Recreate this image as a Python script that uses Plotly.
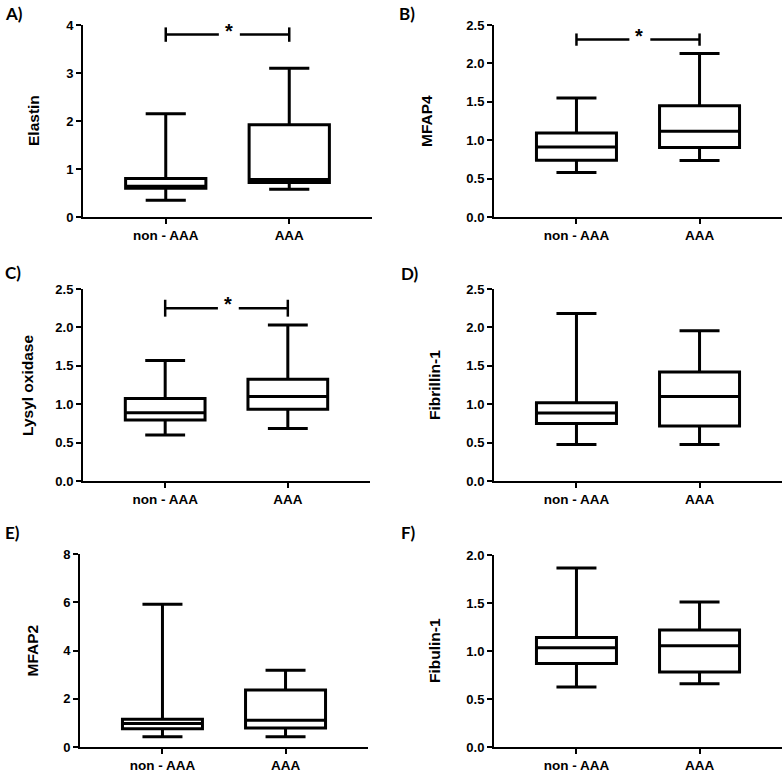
import plotly.graph_objects as go

categories = ["non - AAA", "AAA"]

panel_letters = ["A)", "B)", "C)", "D)", "E)", "F)"]
titles = ["Elastin", "MFAP4", "Lysyl oxidase", "Fibrillin-1", "MFAP2", "Fibulin-1"]

# per panel: [non-AAA, AAA]
lower = [[0.35, 0.58], [0.58, 0.735], [0.60, 0.685], [0.475, 0.475], [0.42, 0.43], [0.625, 0.66]]
q1 = [[0.60, 0.72], [0.74, 0.905], [0.795, 0.935], [0.75, 0.715], [0.76, 0.79], [0.87, 0.78]]
median = [[0.64, 0.78], [0.91, 1.115], [0.89, 1.10], [0.885, 1.10], [0.97, 1.11], [1.035, 1.055]]
q3 = [[0.80, 1.92], [1.095, 1.45], [1.075, 1.325], [1.02, 1.42], [1.15, 2.36], [1.14, 1.22]]
upper = [[2.15, 3.10], [1.55, 2.13], [1.57, 2.03], [2.18, 1.955], [5.92, 3.18], [1.865, 1.51]]

y_max = [4, 2.5, 2.5, 2.5, 8, 2.0]
y_dtick = [1, 0.5, 0.5, 0.5, 2, 0.5]
y_fmt = ["d", ".1f", ".1f", ".1f", "d", ".1f"]

# significance brackets (panel index, bracket height, tick half-height, label)
sig_panels = [0, 1, 2]
sig_height = [3.80, 2.31, 2.25]
sig_tick = [0.15, 0.08, 0.11]
sig_label = ["*", "*", "*"]

W, H = 784, 773


def px_x(v):
    return v / W


def px_y(v):
    return 1 - v / H


# pixel geometry of each plot area: (x0, x1, ytop, ybottom)
geom = [
    (83, 372, 25, 217),
    (494, 782, 25, 217),
    (83, 370, 289, 481),
    (494, 782, 289, 481),
    (80, 368, 554, 747),
    (494, 782, 555, 747),
]
letter_pos = [(3, 13), (397, 13), (3, 272), (399, 273), (3, 532), (399, 532)]
title_x = [34, 427, 27, 434, 32, 434]

fig = go.Figure()
font_main = "Liberation Sans, Arial, sans-serif"

for i in range(6):
    n = i + 1
    xa = "x" if n == 1 else f"x{n}"
    ya = "y" if n == 1 else f"y{n}"
    fig.add_trace(go.Box(
        x=categories,
        q1=q1[i], median=median[i], q3=q3[i],
        lowerfence=lower[i], upperfence=upper[i],
        xaxis=xa, yaxis=ya,
        width=0.65, whiskerwidth=0.5,
        line=dict(color="black", width=3),
        fillcolor="white",
        boxpoints=False, showlegend=False, hoverinfo="skip",
    ))
    x0, x1, yt, yb = geom[i]
    xkey = "xaxis" if n == 1 else f"xaxis{n}"
    ykey = "yaxis" if n == 1 else f"yaxis{n}"
    fig.layout[xkey] = dict(
        domain=[px_x(x0), px_x(x1)], anchor=ya, type="category", automargin=False,
        range=[-0.67, 1.67], showline=True, linecolor="black", linewidth=2,
        ticks="outside", ticklen=5, tickwidth=2, tickcolor="black",
        showgrid=False, zeroline=False, fixedrange=True,
        tickfont=dict(family=font_main, size=13.5, color="black", weight="bold"),
    )
    fig.layout[ykey] = dict(
        domain=[px_y(yb), px_y(yt)], anchor=xa, automargin=False,
        range=[0, y_max[i]], dtick=y_dtick[i], tick0=0, tickformat=y_fmt[i],
        showline=True, linecolor="black", linewidth=2,
        ticks="outside", ticklen=5, tickwidth=2, tickcolor="black",
        showgrid=False, zeroline=False, fixedrange=True,
        tickfont=dict(family=font_main, size=13, color="black", weight="bold"),
    )
    # panel letter
    lx, ly = letter_pos[i]
    fig.add_annotation(
        xref="paper", yref="paper", x=px_x(lx), y=px_y(ly),
        xanchor="left", yanchor="middle", showarrow=False,
        text=panel_letters[i],
        font=dict(family="Lato, Open Sans, sans-serif", size=17, color="black", weight="bold"),
    )
    # y axis title
    fig.add_annotation(
        xref="paper", yref="paper", x=px_x(title_x[i]), y=px_y((yt + yb) / 2),
        xanchor="center", yanchor="middle", showarrow=False, textangle=-90,
        text=titles[i],
        font=dict(family=font_main, size=15.5, color="black", weight="bold"),
    )

for k, p in enumerate(sig_panels):
    n = p + 1
    xa = "x" if n == 1 else f"x{n}"
    ya = "y" if n == 1 else f"y{n}"
    h = sig_height[k]
    t = sig_tick[k]
    line = dict(color="black", width=2.5)
    for (xs, xe) in [(0, 0.43), (0.6, 1)]:
        fig.add_shape(type="line", xref=xa, yref=ya, x0=xs, x1=xe, y0=h, y1=h, line=line)
    for xv in [0, 1]:
        fig.add_shape(type="line", xref=xa, yref=ya, x0=xv, x1=xv, y0=h - t, y1=h + t, line=line)
    fig.add_annotation(
        xref=xa, yref=ya, x=0.51, y=h, showarrow=False,
        text=sig_label[k], xanchor="center", yanchor="middle", yshift=4,
        font=dict(family=font_main, size=20, color="black", weight="bold"),
    )

fig.update_layout(
    width=W, height=H, margin=dict(l=0, r=0, t=0, b=0, autoexpand=False),
    paper_bgcolor="white", plot_bgcolor="white",
)

fig.write_html(
    "out.html",
    config={"displayModeBar": False},
    post_script="document.body.style.margin='0';document.body.style.overflow='hidden';",
)
